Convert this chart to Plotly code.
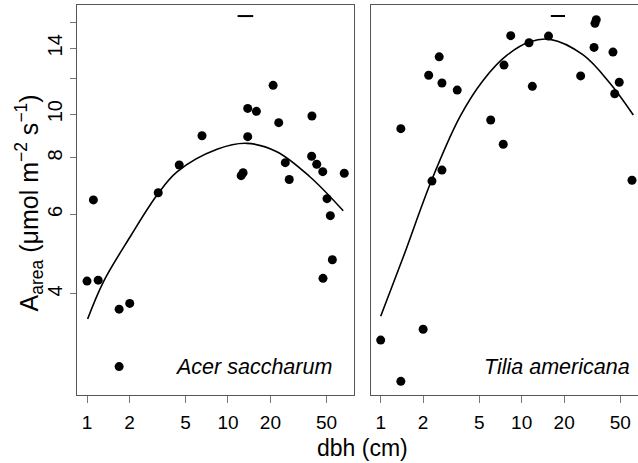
import plotly.graph_objects as go

# ---------------- data ----------------
# Acer saccharum (left panel)
acer_dbh = [1.11, 3.2, 4.51, 6.54, 12.4, 12.8, 13.8, 13.8, 15.9, 20.9, 22.9, 25.5, 27.2,
            39.4, 39.2, 42.6, 47.0, 50.4, 53.2, 66.8, 1.0, 1.2, 1.69, 2.01, 1.69, 47.2, 55.0]
acer_A = [6.46, 6.70, 7.72, 8.96, 7.31, 7.42, 8.92, 10.3, 10.15, 11.59, 9.58, 7.81, 7.17,
          9.91, 8.07, 7.75, 7.46, 6.50, 5.96, 7.40, 4.27, 4.29, 3.70, 3.81, 2.76, 4.33, 4.76]
acer_fit_dbh = [1.01, 1.31, 2.03, 3.14, 4.35, 8.36, 13.6, 22.2, 38.1, 65.7]
acer_fit_A = [3.52, 4.26, 5.36, 6.62, 7.45, 8.36, 8.62, 8.26, 7.27, 6.11]
acer_peak_ci = [11.7, 15.1]

# Tilia americana (right panel)
tilia_dbh = [1.39, 2.19, 2.60, 2.72, 3.49, 2.31, 2.72, 6.03, 7.40, 7.49, 8.36, 11.27, 11.9,
             15.5, 26.2, 32.6, 33.1, 33.8, 44.4, 49.2, 45.7, 60.6, 1.0, 2.0, 1.39]
tilia_A = [9.29, 12.2, 13.4, 11.73, 11.31, 7.11, 7.52, 9.71, 8.58, 12.85, 14.93, 14.4, 11.53,
           14.9, 12.16, 14.06, 15.9, 16.2, 13.73, 11.77, 11.1, 7.14, 3.16, 3.34, 2.56]
tilia_fit_dbh = [1.0, 1.45, 2.3, 3.65, 5.34, 7.83, 11.45, 15.9, 27.3, 42.3, 61.9]
tilia_fit_A = [3.57, 4.84, 7.15, 9.88, 11.9, 13.5, 14.47, 14.65, 13.53, 11.71, 9.96]
tilia_peak_ci = [16.1, 20.3]

peak_bar_A = 16.5

x_ticks = [1, 2, 5, 10, 20, 50]
y_ticks = [4, 6, 8, 10, 14]
y_unlabelled_ticks = [12, 16]

FONT = "Liberation Sans, Arial, Helvetica, sans-serif"

fig = go.Figure()

def add_panel(dbh, A, fit_x, fit_y, ci, xa, ya):
    fig.add_trace(go.Scatter(x=fit_x, y=fit_y, mode="lines",
                             line=dict(color="black", width=1.6, shape="spline", smoothing=1.0),
                             xaxis=xa, yaxis=ya, showlegend=False, hoverinfo="skip"))
    fig.add_trace(go.Scatter(x=dbh, y=A, mode="markers", marker=dict(color="black", size=9, line=dict(width=0)),
                             xaxis=xa, yaxis=ya, showlegend=False))
    fig.add_trace(go.Scatter(x=ci, y=[peak_bar_A, peak_bar_A], mode="lines", line=dict(color="black", width=2),
                             xaxis=xa, yaxis=ya, showlegend=False, hoverinfo="skip"))

add_panel(acer_dbh, acer_A, acer_fit_dbh, acer_fit_A, acer_peak_ci, "x", "y")
add_panel(tilia_dbh, tilia_A, tilia_fit_dbh, tilia_fit_A, tilia_peak_ci, "x2", "y2")

xcommon = dict(type="log", tickvals=x_ticks, ticktext=[str(v) for v in x_ticks], ticks="outside", ticklen=7,
               tickcolor="#777", tickwidth=1, showline=True, linecolor="#555", linewidth=1, mirror=True,
               showgrid=False, zeroline=False, ticklabelstandoff=3,
               tickfont=dict(size=19, color="black", family=FONT))
ycommon = dict(type="log", range=[0.378, 1.242], showgrid=False, zeroline=False, showline=True,
               linecolor="#555", linewidth=1)

fig.update_layout(
    width=638, height=463,
    margin=dict(l=77, r=0, t=5, b=68),
    paper_bgcolor="white", plot_bgcolor="white",
    font=dict(family=FONT, color="black"),
    xaxis=dict(domain=[0, 0.4938], range=[-0.071, 1.894], anchor="y", **xcommon),
    xaxis2=dict(domain=[0.5235, 1.0], range=[-0.071, 1.825], anchor="y2", **xcommon),
    yaxis=dict(domain=[0, 1], anchor="x", tickvals=y_ticks, ticktext=[str(v) for v in y_ticks], tickangle=-90,
               ticks="outside", ticklen=6, tickcolor="#777", mirror=True,
               minor=dict(tickvals=y_unlabelled_ticks, ticks="outside", ticklen=6, tickcolor="#777", showgrid=False),
               tickfont=dict(size=20, color="black", family=FONT), **ycommon),
    yaxis2=dict(domain=[0, 1], anchor="x2", showticklabels=False, ticks="", mirror=False, **ycommon),
    annotations=[
        dict(text="dbh (cm)", xref="paper", yref="paper", x=0.509, y=-0.136, xanchor="center", yanchor="middle",
             showarrow=False, font=dict(size=23, family=FONT, color="black")),
        dict(text="A<sub>area</sub> (μmol m<sup>−2</sup> s<sup>−1</sup>)", xref="paper", yref="paper",
             x=-0.0838, y=0.4936, xanchor="center", yanchor="middle", textangle=-90,
             showarrow=False, font=dict(size=25, family=FONT, color="black")),
        dict(text="<i>Acer saccharum</i>", xref="paper", yref="paper", x=0.458, y=0.0726,
             xanchor="right", yanchor="middle", showarrow=False, font=dict(size=21.5, family=FONT, color="black")),
        dict(text="<i>Tilia americana</i>", xref="paper", yref="paper", x=0.9888, y=0.0726,
             xanchor="right", yanchor="middle", showarrow=False, font=dict(size=21.5, family=FONT, color="black")),
    ],
)

fig.write_html("out.html", config={"displayModeBar": False},
               post_script="document.body.style.margin='0';document.body.style.overflow='hidden';")
